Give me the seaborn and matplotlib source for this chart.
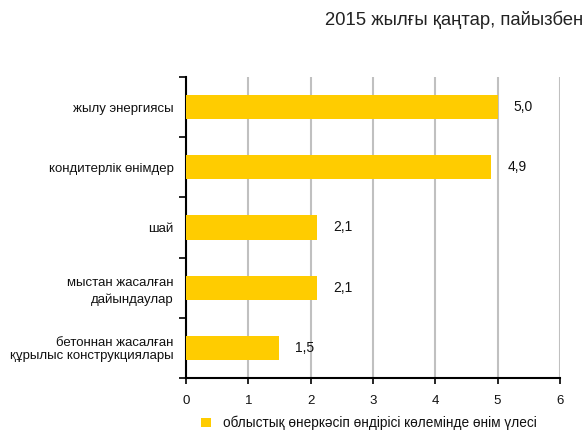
import matplotlib
matplotlib.use("Agg")
import matplotlib.pyplot as plt
import seaborn as sns
import pandas as pd
from matplotlib.ticker import FixedLocator

sns.set_theme(style="white")
plt.rcParams['font.family'] = ['Liberation Sans', 'DejaVu Sans']

categories = ["жылу энергиясы", "кондитерлік өнімдер", "шай",
              "мыстан жасалған\nдайындаулар", "бетоннан жасалған\nқұрылыс конструкциялары"]
values = [5.0, 4.9, 2.1, 2.1, 1.5]
value_labels = ["5,0", "4,9", "2,1", "2,1", "1,5"]
x_ticks = [0, 1, 2, 3, 4, 5, 6]
series_name = "облыстық өнеркәсіп өндірісі көлемінде өнім үлесі"
title = "2015 жылғы қаңтар, пайызбен"

df = pd.DataFrame({"category": categories, "value": values})

fig = plt.figure(figsize=(5.85, 4.3), dpi=100)
ax = fig.add_axes([0.318, 0.121, 0.639, 0.700])

sns.barplot(data=df, x="value", y="category", orient="h", color="#FFCC00",
            saturation=1, width=0.4, linewidth=0, label=series_name, ax=ax, zorder=3)

ax.set_xlim(0, 6)
ax.set_ylim(4.5, -0.5)
ax.set_xticks(x_ticks)
ax.set_xticklabels([str(t) for t in x_ticks])
ax.set_xlabel("")
ax.set_ylabel("")

# gridlines
ax.grid(axis="x", color="#c0c0c0", linewidth=1.5, zorder=0)
ax.grid(axis="y", visible=False)

# spines
for s in ["top", "right"]:
    ax.spines[s].set_visible(False)
for s in ["left", "bottom"]:
    ax.spines[s].set_color("black")
    ax.spines[s].set_linewidth(1.5)

# ticks
ax.tick_params(axis="y", which="major", length=0, pad=9, labelsize=9.5, labelcolor="#111111")
ax.yaxis.set_minor_locator(FixedLocator([-0.5, 0.5, 1.5, 2.5, 3.5, 4.5]))
ax.tick_params(axis="y", which="minor", length=5, width=1.2, color="black", direction="out", left=True)
ax.tick_params(axis="x", which="major", length=4, width=1.2, color="black", direction="out",
               bottom=True, pad=8, labelsize=9.5, labelcolor="#111111")
spacing = [1.2, 1.2, 1.2, 1.45, 1.05]
for lbl, ls in zip(ax.get_yticklabels(), spacing):
    lbl.set_horizontalalignment("right")
    lbl.set_multialignment("right")
    lbl.set_linespacing(ls)

# value labels
for i, (v, t) in enumerate(zip(values, value_labels)):
    ax.annotate(t, xy=(v, i), xytext=(11.5, 0), textcoords="offset points",
                va="center", ha="left", fontsize=10, color="#111111")

fig.text(0.997, 0.953, title, ha="right", va="center", fontsize=13.3, color="#222222")

ax.legend(loc="center", bbox_to_anchor=(0.49, -0.15), frameon=False,
          handlelength=0.7, handleheight=0.7, handletextpad=0.9, fontsize=9.8,
          borderpad=0.2)
for t in ax.get_legend().get_texts():
    t.set_color("#111111")

fig.savefig("out.png", dpi=100)
